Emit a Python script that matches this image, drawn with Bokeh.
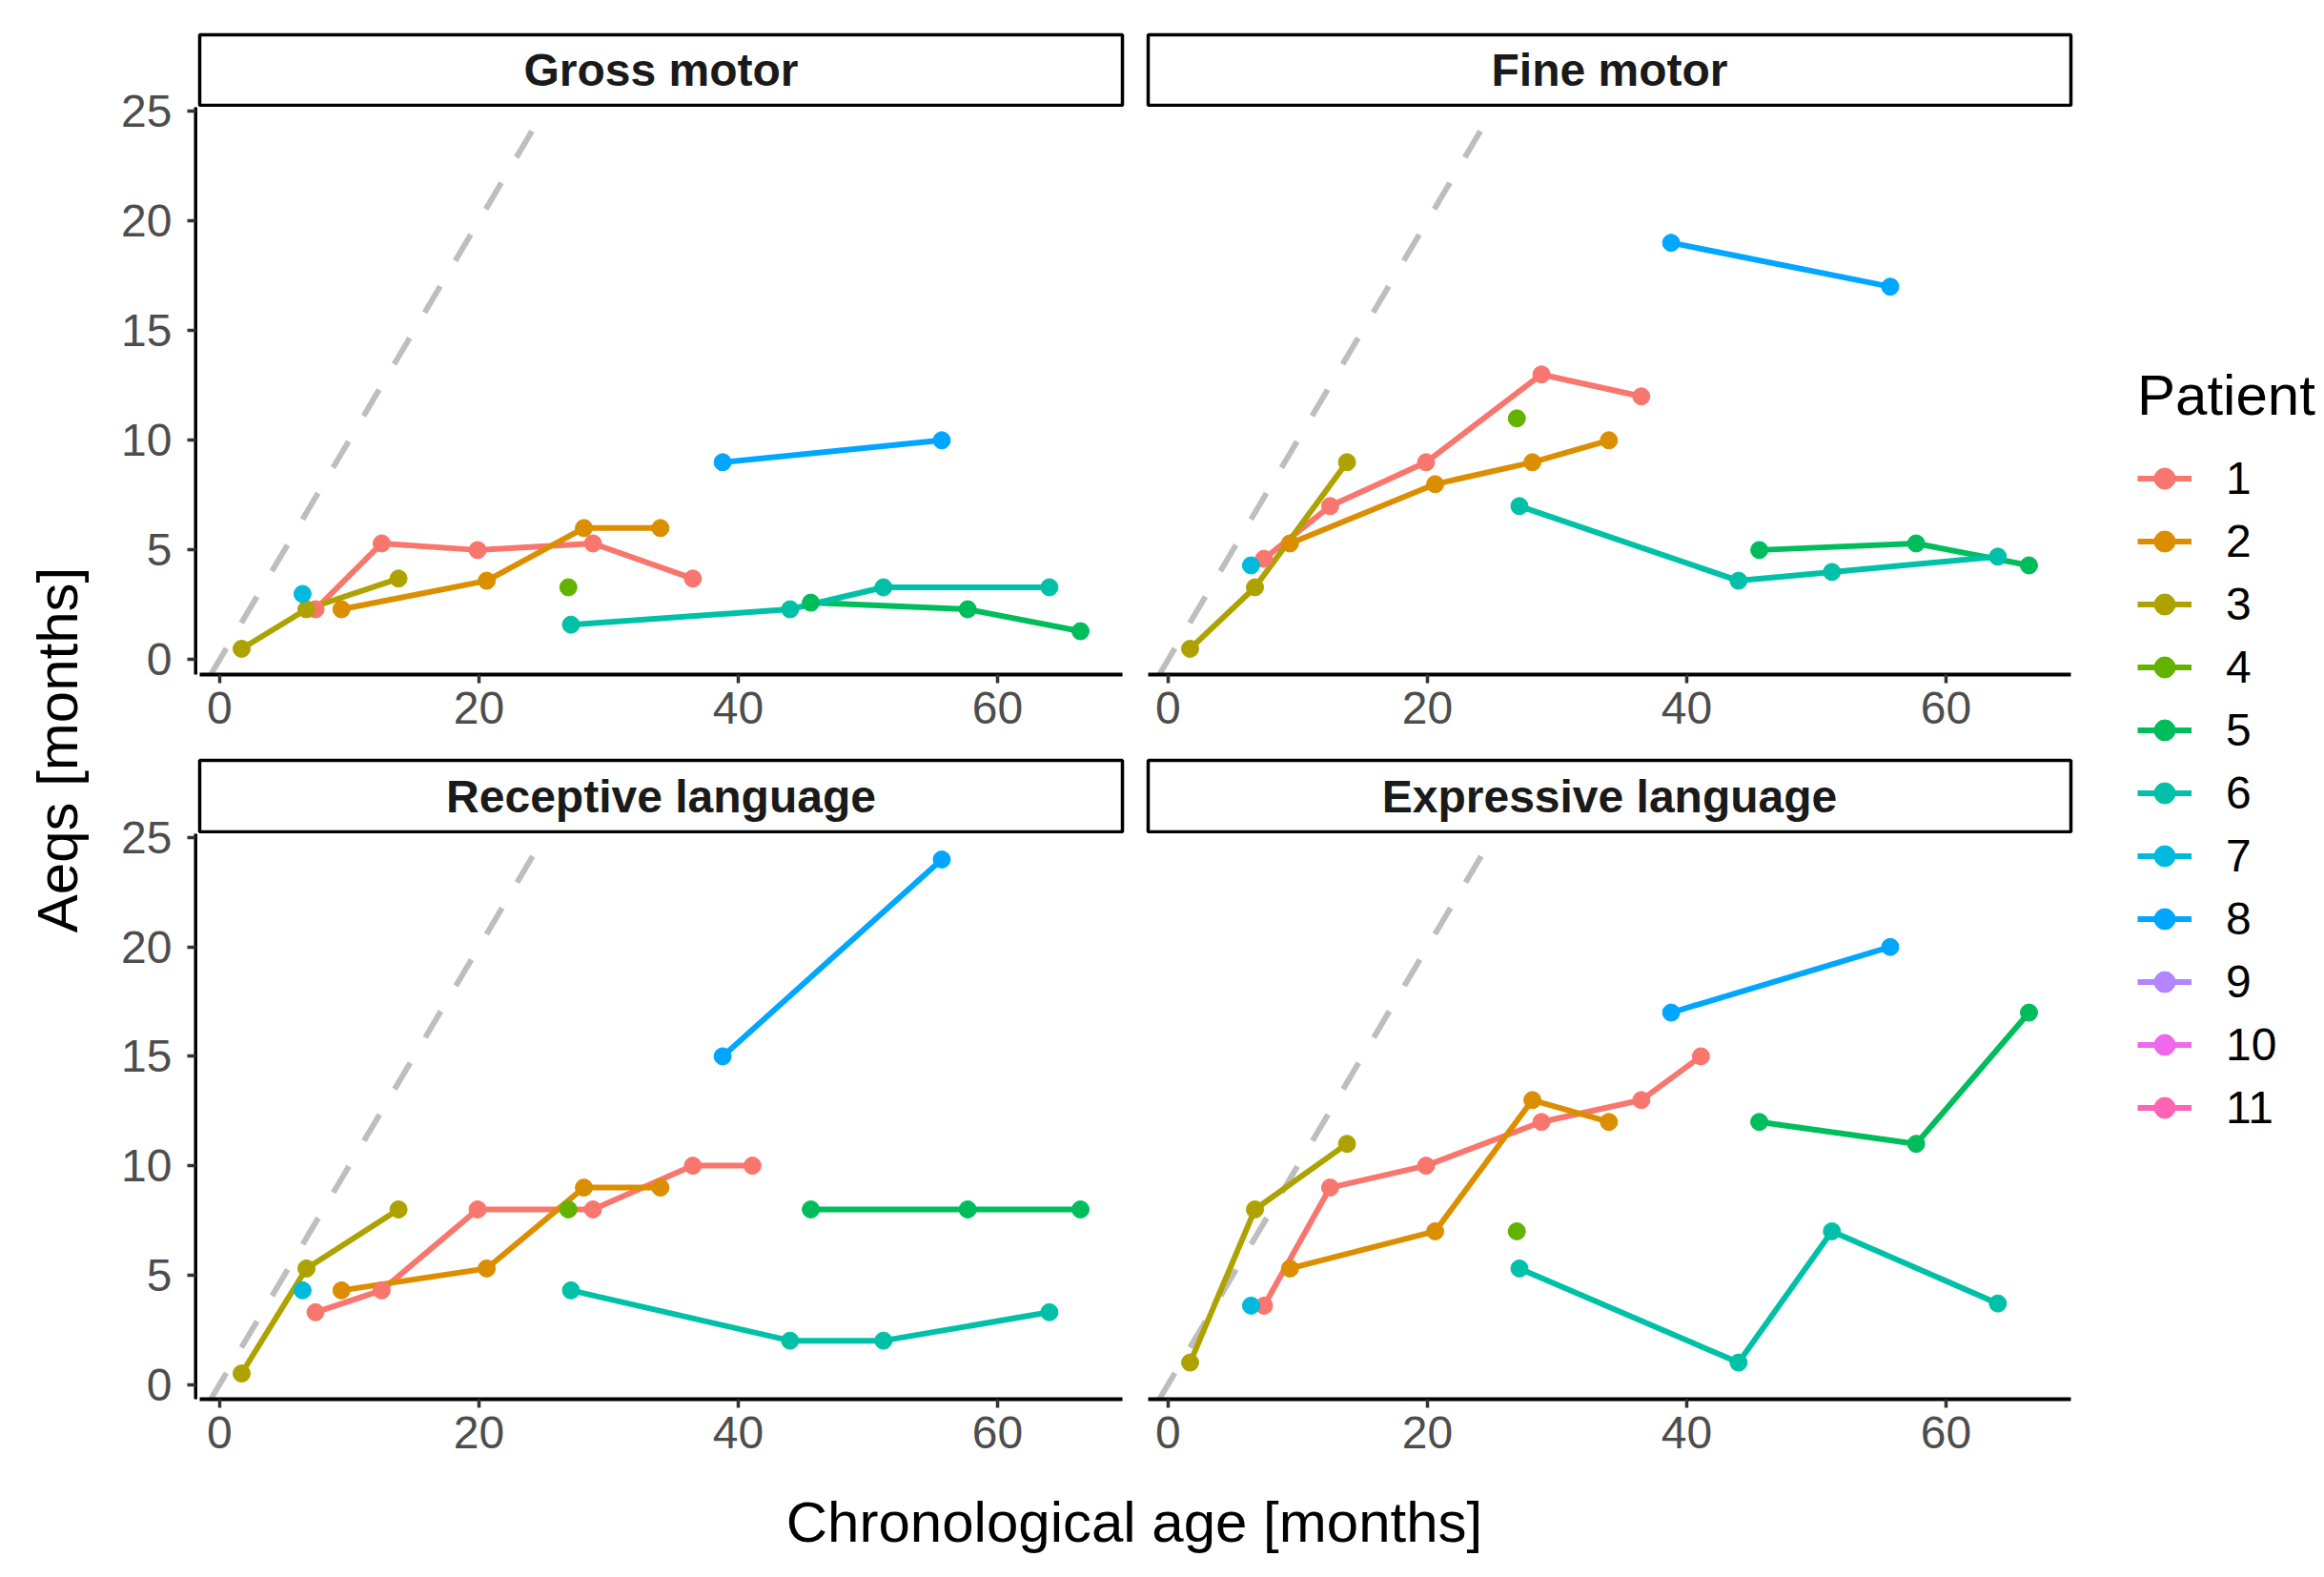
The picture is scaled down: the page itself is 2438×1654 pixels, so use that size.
import math
import numpy as np
from bokeh.plotting import figure
from bokeh.models import Range1d, FixedTicker, Label, Legend, LegendItem
from bokeh.layouts import row, column
from bokeh.embed import file_html
from bokeh.resources import INLINE

nan = float("nan")

# ---------------- data ----------------
patient = [1, 1, 1, 1, 1, 1,
           2, 2, 2, 2,
           3, 3, 3,
           4,
           5, 5, 5,
           6, 6, 6, 6,
           7,
           8, 8]
age = [7.4, 12.5, 19.9, 28.8, 36.5, 41.1,
       9.4, 20.6, 28.1, 34.0,
       1.7, 6.7, 13.8,
       26.9,
       45.6, 57.7, 66.4,
       27.1, 44.0, 51.2, 64.0,
       6.4,
       38.8, 55.7]
gross_motor = [2.3, 5.3, 5.0, 5.3, 3.7, nan,
               2.3, 3.6, 6.0, 6.0,
               0.5, 2.3, 3.7,
               3.3,
               2.6, 2.3, 1.3,
               1.6, 2.3, 3.3, 3.3,
               3.0,
               9.0, 10.0]
fine_motor = [4.6, 7.0, 9.0, 13.0, 12.0, nan,
              5.3, 8.0, 9.0, 10.0,
              0.5, 3.3, 9.0,
              11.0,
              5.0, 5.3, 4.3,
              7.0, 3.6, 4.0, 4.7,
              4.3,
              19.0, 17.0]
receptive_language = [3.3, 4.3, 8.0, 8.0, 10.0, 10.0,
                      4.3, 5.3, 9.0, 9.0,
                      0.5, 5.3, 8.0,
                      8.0,
                      8.0, 8.0, 8.0,
                      4.3, 2.0, 2.0, 3.3,
                      4.3,
                      15.0, 24.0]
expressive_language = [3.6, 9.0, 10.0, 12.0, 13.0, 15.0,
                       5.3, 7.0, 13.0, 12.0,
                       1.0, 8.0, 11.0,
                       7.0,
                       12.0, 11.0, 17.0,
                       5.3, 1.0, 7.0, 3.7,
                       3.6,
                       17.0, 20.0]

domain_titles = ["Gross motor", "Fine motor", "Receptive language", "Expressive language"]
domain_values = [gross_motor, fine_motor, receptive_language, expressive_language]

patient_ids = [1, 2, 3, 4, 5, 6, 7, 8, 9, 10, 11]
patient_colors = ["#F8766D", "#DB8E00", "#AEA200", "#64B200", "#00BD5C", "#00C1A7",
                  "#00BADE", "#00A6FF", "#B385FF", "#EF67EB", "#FF63B6"]

x_ticks = [0, 20, 40, 60]
y_ticks = [0, 5, 10, 15, 20, 25]

# ---------------- scales (ggplot-like 5% expansion) ----------------
age_arr = np.array(age)
pat_arr = np.array(patient)
all_vals = np.concatenate([np.array(v) for v in domain_values])
x_lo, x_hi = age_arr.min(), age_arr.max()
y_lo, y_hi = np.nanmin(all_vals), np.nanmax(all_vals)
dx, dy = 0.05 * (x_hi - x_lo), 0.05 * (y_hi - y_lo)
X0, X1 = x_lo - dx, x_hi + dx
Y0, Y1 = y_lo - dy, y_hi + dy
# reference line y = x, limited to the panel's box
identity = [max(X0, Y0), min(X1, Y1)]

FONT = "Liberation Sans"
TOTAL_H = 1652
YT_W = 117          # y-title column
AX_W = 90           # y-axis column
FRAME_W = 970
LEFT_W = FRAME_W + 5
RIGHT_W = 20 + FRAME_W + 5
STRIP_H = [112, 79]     # strip figure heights (row 1 includes top margin)
STRIP_TOP = [36, 2]
MAIN_H = 683
MAIN_BOTTOM = [88, 90]
LINE_W = 6
PT_SIZE = 18


def style_axis(ax):
    ax.axis_line_width = 4
    ax.axis_line_color = "black"
    ax.major_tick_line_width = 3.5
    ax.major_tick_line_color = "#333333"
    ax.major_tick_out = 9
    ax.major_tick_in = 0
    ax.minor_tick_line_color = None
    ax.major_label_text_font = FONT
    ax.major_label_text_font_size = "48px"
    ax.major_label_text_color = "#4D4D4D"


def bare(fig):
    fig.xgrid.grid_line_color = None
    fig.ygrid.grid_line_color = None
    return fig


def make_strip(title, left, r):
    w = LEFT_W if left else RIGHT_W
    mbl = 2 if left else 22
    s = figure(width=w, height=STRIP_H[r], x_range=Range1d(0, 1), y_range=Range1d(0, 1),
               output_backend="svg", toolbar_location=None,
               x_axis_location=None, y_axis_location=None,
               min_border_left=mbl, min_border_right=5, min_border_top=STRIP_TOP[r],
               min_border_bottom=2,
               outline_line_color="black", outline_line_width=3.5,
               background_fill_color="white", border_fill_color="white")
    bare(s)
    s.add_layout(Label(x=0.5, y=0.5, text=title, text_align="center", text_baseline="middle",
                       text_font=FONT, text_font_style="bold", text_font_size="48px",
                       text_color="#1A1A1A"))
    return s


def make_yaxis(r):
    a = figure(width=AX_W, height=STRIP_H[r] + MAIN_H,
               x_range=Range1d(0, 1), y_range=Range1d(Y0, Y1),
               output_backend="svg", toolbar_location=None,
               x_axis_location=None, y_axis_location="left",
               min_border_left=AX_W - 2, min_border_right=0,
               min_border_top=STRIP_H[r], min_border_bottom=MAIN_BOTTOM[r],
               outline_line_color=None, background_fill_color="white",
               border_fill_color="white")
    bare(a)
    style_axis(a.yaxis[0])
    a.yaxis.ticker = FixedTicker(ticks=y_ticks)
    a.yaxis.major_label_standoff = 16
    return a


def make_panel(vals, left, r):
    w = LEFT_W if left else RIGHT_W
    mbl = 0 if left else 20
    p = figure(width=w, height=MAIN_H, x_range=Range1d(X0, X1), y_range=Range1d(Y0, Y1),
               output_backend="svg", toolbar_location=None,
               y_axis_location=None,
               min_border_left=mbl, min_border_right=5, min_border_top=0,
               min_border_bottom=MAIN_BOTTOM[r],
               outline_line_color=None, background_fill_color="white",
               border_fill_color="white")
    bare(p)
    style_axis(p.xaxis[0])
    p.xaxis.ticker = FixedTicker(ticks=x_ticks)
    p.xaxis.major_label_standoff = 9

    p.line(identity, identity, line_color="#BEBEBE", line_width=6, line_dash="32 31")

    v = np.array(vals)
    for pid, col in zip(patient_ids, patient_colors):
        m = (pat_arr == pid) & ~np.isnan(v)
        if m.sum() > 1:
            p.line(age_arr[m], v[m], line_color=col, line_width=LINE_W)
    for pid, col in zip(patient_ids, patient_colors):
        m = (pat_arr == pid) & ~np.isnan(v)
        if m.sum() > 0:
            p.scatter(age_arr[m], v[m], size=PT_SIZE, color=col)
    return p


yaxis_col = column(make_yaxis(0), make_yaxis(1))
cols = []
for c in range(2):
    items = []
    for r in range(2):
        k = r * 2 + c
        items.append(make_strip(domain_titles[k], c == 0, r))
        items.append(make_panel(domain_values[k], c == 0, r))
    cols.append(column(*items))

GRID_H = STRIP_H[0] + MAIN_H + STRIP_H[1] + MAIN_H
GRID_W = AX_W + LEFT_W + RIGHT_W

# y-axis title
yt = bare(figure(width=YT_W, height=TOTAL_H, x_range=Range1d(0, YT_W),
                 y_range=Range1d(0, TOTAL_H),
                 output_backend="svg", toolbar_location=None, min_border=0,
                 x_axis_location=None, y_axis_location=None, outline_line_color=None))
yt.add_layout(Label(x=60, y=TOTAL_H - 786, text="Aeqs [months]", angle=math.pi / 2,
                    text_align="center", text_baseline="middle",
                    text_font=FONT, text_font_size="60px", text_color="black"))

# x-axis title
XT_H = TOTAL_H - GRID_H
xt = bare(figure(width=GRID_W, height=XT_H, x_range=Range1d(0, GRID_W),
                 y_range=Range1d(0, XT_H),
                 output_backend="svg", toolbar_location=None, min_border=0,
                 x_axis_location=None, y_axis_location=None, outline_line_color=None))
panels_mid = (AX_W + (AX_W + LEFT_W + RIGHT_W - 5)) / 2
xt.add_layout(Label(x=panels_mid, y=XT_H - (1596 - GRID_H),
                    text="Chronological age [months]",
                    text_align="center", text_baseline="middle",
                    text_font=FONT, text_font_size="60px", text_color="black"))

# legend
LG_W = 2436 - (YT_W + GRID_W)
lg = bare(figure(width=LG_W, height=TOTAL_H, x_range=Range1d(0, 1), y_range=Range1d(0, 1),
                 output_backend="svg", toolbar_location=None, min_border=0,
                 x_axis_location=None, y_axis_location=None, outline_line_color=None))
legend_items = []
for pid, col in zip(patient_ids, patient_colors):
    rl = lg.line(x=[nan], y=[nan], line_color=col, line_width=LINE_W)
    rp = lg.scatter(x=[nan], y=[nan], size=PT_SIZE, color=col)
    legend_items.append(LegendItem(label=str(pid), renderers=[rl, rp]))
legend = Legend(items=legend_items, title="Patient", location=(65, 463),
                title_text_font=FONT, title_text_font_size="60px", title_text_color="black",
                title_text_font_style="normal", title_standoff=25,
                label_text_font=FONT, label_text_font_size="48px", label_text_color="black",
                glyph_width=57, glyph_height=55, label_height=55, spacing=11,
                label_standoff=36, padding=0, margin=0,
                border_line_color=None, background_fill_alpha=0)
lg.add_layout(legend)

layout = row(yt, column(row(yaxis_col, *cols), xt), lg)

open("out.html", "w").write(file_html(layout, INLINE, title="Aeqs by chronological age"))
